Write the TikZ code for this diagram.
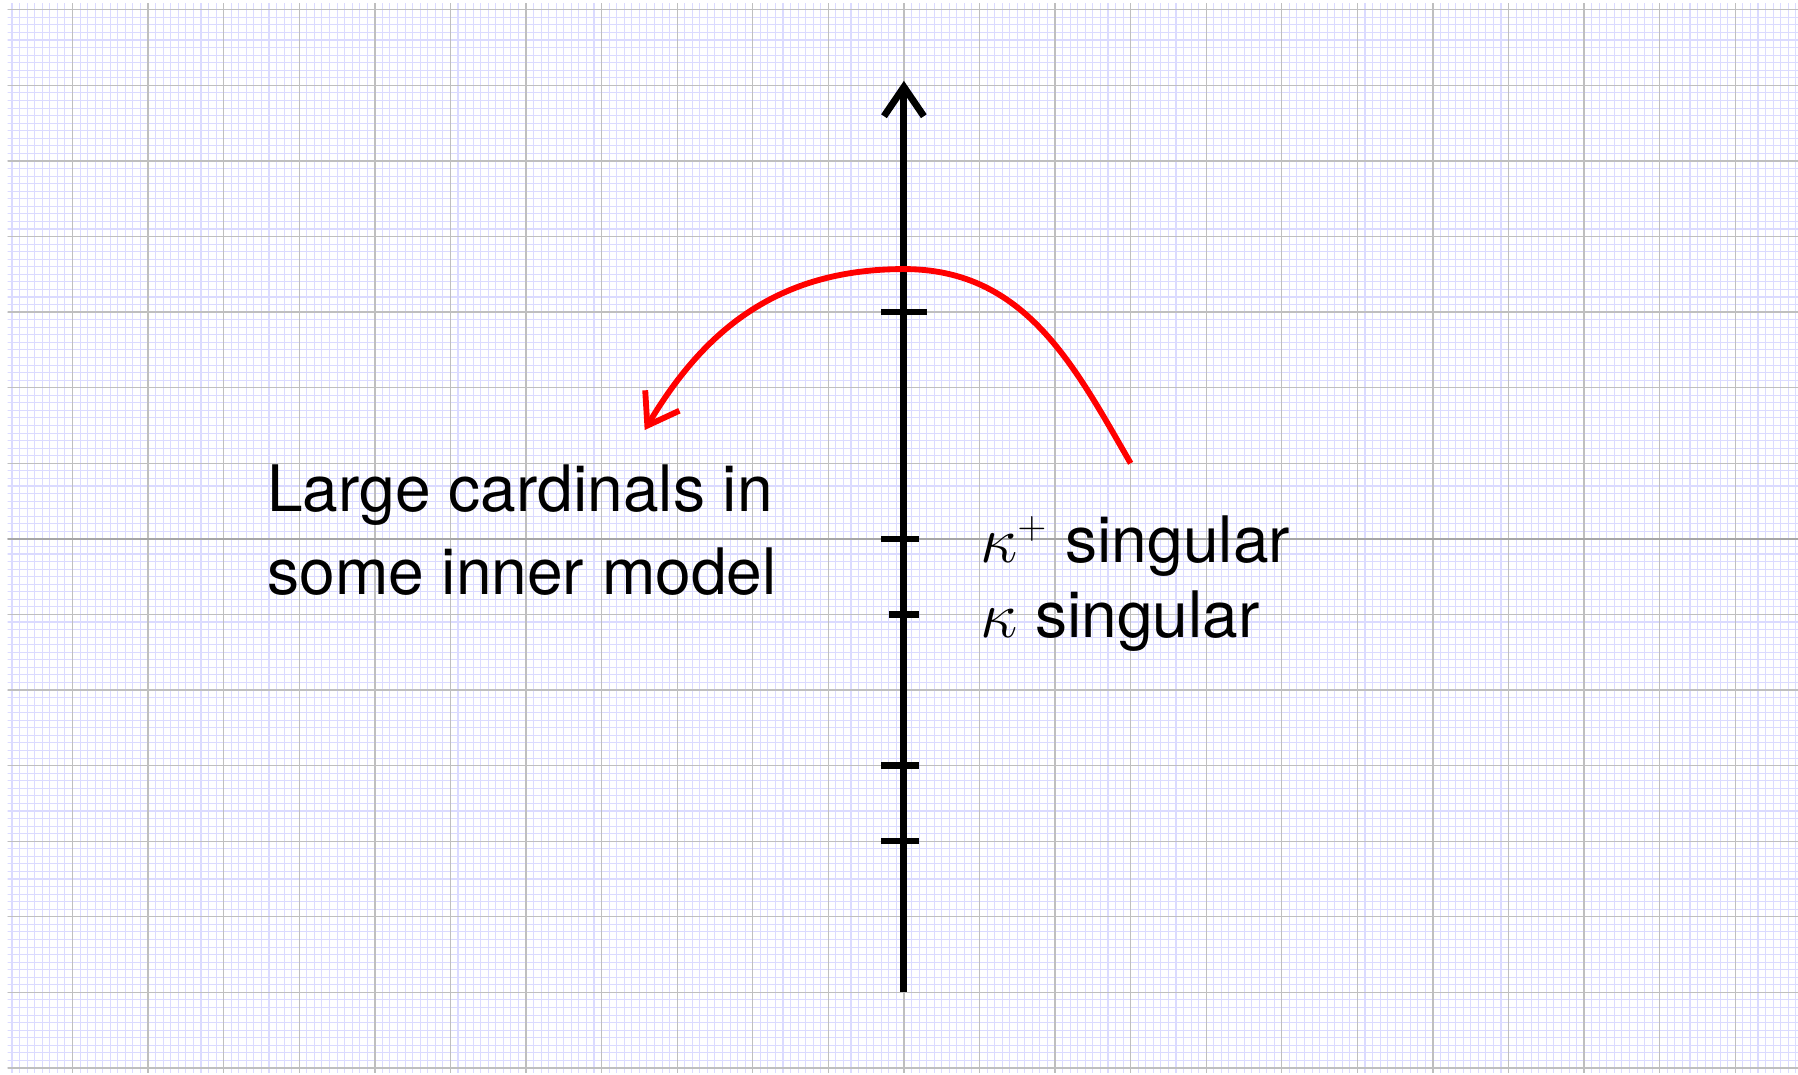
\documentclass[tikz,border=0pt]{standalone}
\usepackage{fontspec}
\setsansfont{TeX Gyre Heros}[Scale=0.97]
\DeclareMathSizes{24.88}{24.88}{14.4}{10}
\usetikzlibrary{arrows.meta}

\begin{document}
\begin{tikzpicture}[
  minorgrid/.style={draw=blue!14,line width=0.4pt},
  majorgrid/.style={draw=black!25,line width=0.5pt},
  axisline/.style={line width=2.6pt,-{Straight Barb[sharp,length=11pt,width=15pt]}},
  tickline/.style={line width=2.4pt},
  bendarrow/.style={red,line width=2.2pt,-{Straight Barb[sharp,length=11pt,width=15pt]}},
  txt/.style={font={\sffamily\fontsize{24.88}{31.3}\selectfont},inner sep=0pt,anchor=base west}
]
  \useasboundingbox (-11.96,-7.09) rectangle (11.83,7.13);
  \begin{scope}
    \clip (-11.86,-7.06) rectangle (11.83,7.09);
    \draw[minorgrid] (-12,-7.2) grid[step=0.1] (12,7.2);
    \draw[majorgrid] (-12,-8) grid[step=1] (12,8);
    \draw[black!35,line width=0.6pt] (-12,0) -- (12,0);
  \end{scope}
  \coordinate (axisbot) at (0,-6);
  \coordinate (axistop) at (0,6.06);
  \draw[axisline] (axisbot) -- (axistop);
  \foreach \y/\l/\r in {3/-0.3/0.3,0/-0.3/0.2,-1/-0.2/0.2,-3/-0.3/0.2,-4/-0.3/0.2}
    \draw[tickline] (\l,\y) -- (\r,\y);
  \coordinate (arcstart) at (3,1);
  \coordinate (arctop) at (0,3.57);
  \coordinate (arcend) at (-3.43,1.44);
  \draw[bendarrow] (arcstart) .. controls (2.25,2.3) and (1.6,3.57) .. (arctop)
    .. controls (-1.7,3.57) and (-2.66,2.73) .. (arcend);
  \node[txt,align=left] (lcim) at (-8.43,-0.741) {Large cardinals in\\some inner model};
  \node[txt] (kplus) at (1.0,-0.317) {$\kappa^+$ singular};
  \node[txt] (kappa) at (1.0,-1.31) {$\kappa$ singular};
\end{tikzpicture}
\end{document}
